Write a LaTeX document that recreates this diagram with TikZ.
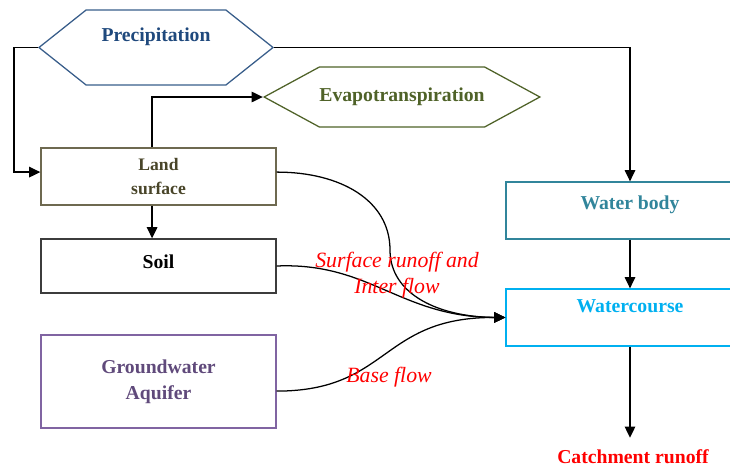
\documentclass[tikz,border=0pt]{standalone}
\usepackage{fontspec}
\setmainfont{Liberation Serif}
\usetikzlibrary{shapes.symbols, arrows.meta, positioning}

\definecolor{precblue}{RGB}{56,93,138}
\definecolor{prectext}{RGB}{31,73,125}
\definecolor{evapgreen}{RGB}{79,98,40}
\definecolor{landline}{RGB}{110,105,80}
\definecolor{landtext}{RGB}{73,69,41}
\definecolor{soilline}{RGB}{60,60,60}
\definecolor{gwline}{RGB}{128,100,162}
\definecolor{gwtext}{RGB}{96,74,123}
\definecolor{bodyteal}{RGB}{49,133,155}
\definecolor{coursecyan}{RGB}{0,176,240}
\definecolor{flowred}{RGB}{255,0,0}

\begin{document}
\begin{tikzpicture}[
    x=0.025cm, y=-0.025cm,
    hexbox/.style={signal, signal to=west and east, draw, line width=0.9pt, inner sep=0pt, align=center, font=\fontsize{14}{16}\selectfont\bfseries},
    flowbox/.style={rectangle, draw, line width=0.9pt, minimum width=5.875cm, align=center, font=\fontsize{14}{18.5}\selectfont\bfseries},
    arrow/.style={-{Triangle[length=8pt, width=7.5pt]}, line width=0.9pt, black},
    flowlabel/.style={text=flowred, align=center, font=\fontsize{15.5}{18.5}\selectfont\itshape},
]
\clip (0,0) rectangle (730,468);

% Hexagons
\node[hexbox, draw=precblue, text=prectext, signal pointer angle=77, minimum width=5.85cm, minimum height=1.875cm, text height=0.4cm, text depth=0.7cm] (prec) at (156,47.5) {Precipitation};
\node[hexbox, draw=evapgreen, text=evapgreen, signal pointer angle=57, minimum width=6.8cm, minimum height=1.5cm] (evap) at (402,97) {Evapotranspiration};

% Left column
\node[flowbox, draw=landline, text=landtext, minimum height=1.425cm, font=\fontsize{12.5}{17}\selectfont\bfseries] (land) at (158.5,176.5) {Land\\surface};
\node[flowbox, draw=soilline, text=black, minimum height=1.35cm, text height=0.4cm, text depth=0.3cm] (soil) at (158.5,266) {Soil};
\node[flowbox, draw=gwline, text=gwtext, minimum height=2.325cm] (gw) at (158.5,381.5) {Groundwater\\Aquifer};

% Right column
\node[flowbox, draw=bodyteal, text=bodyteal, minimum width=6.2cm, minimum height=1.425cm, text height=0.4cm, text depth=0.475cm] (wbody) at (630,210.5) {Water body};
\node[flowbox, draw=coursecyan, text=coursecyan, minimum width=6.2cm, minimum height=1.425cm, text height=0.4cm, text depth=0.675cm] (wcourse) at (630,317.5) {Watercourse};
\node[text=flowred, font=\fontsize{14}{16}\selectfont\bfseries] (catch) at (633,457) {Catchment runoff};

% Straight connectors
\draw[arrow] (prec.180) -- ++(-24,0) |- ([yshift=0.11cm]land.west);
\draw[arrow] (prec.0) -| (wbody.north);
\draw[arrow] ([xshift=-0.16cm]land.north) |- (evap.180);
\draw[arrow] ([xshift=-0.16cm]land.south) -- ([xshift=-0.16cm]soil.north);
\draw[arrow] (wbody) -- (wcourse);
\draw[arrow, shorten >=0.18cm] (wcourse.south) -- (wcourse.south |- catch.north);

% Runoff curves
\draw[arrow] ([yshift=0.11cm]land.east) .. controls (340,172) and (390,200) .. (390,250)
    .. controls (390,295) and (440,317) .. (wcourse.west);
\draw[arrow] (soil.east) .. controls (370,262) and (400,317) .. (wcourse.west);
\draw[arrow] ([yshift=-0.24cm]gw.east) .. controls (390,391) and (380,317) .. (wcourse.west);

% Flow labels
\node[flowlabel] (surflab) at (397,275) {Surface runoff and\\Inter flow};
\node[flowlabel] (baselab) at (389,377) {Base flow};

\end{tikzpicture}
\end{document}
